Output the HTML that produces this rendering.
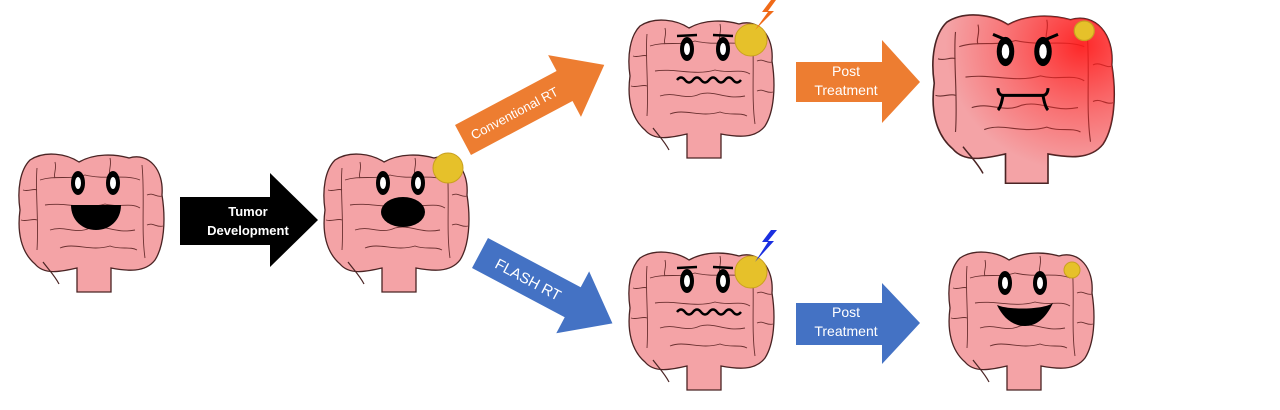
<!DOCTYPE html>
<html><head><meta charset="utf-8"><style>
html,body{margin:0;padding:0;background:#fff;}
svg{display:block;font-family:"Liberation Sans",sans-serif;}
</style></head><body>
<svg width="1280" height="410" viewBox="0 0 1280 410" xmlns="http://www.w3.org/2000/svg">
<defs>
<g id="gut">
  <path d="M62,142 L62,118 C48,121 30,126 20,114 C6,102 2,82 5,60 C2,40 5,20 15,10 C30,0 52,4 64,12 C80,3 100,4 114,8 C134,2 149,20 147,45 C151,70 149,96 140,110 C130,123 112,121 96,118 L96,142 Z" fill="#f4a3a6" stroke="#4a2424" stroke-width="1.3"/>
  <path d="M28,112 C34,120 40,126 44,134" fill="none" stroke="#4a2424" stroke-width="1.2"/>
  <g fill="none" stroke="#6a3030" stroke-width="0.9">
    <path d="M22,18 C20,40 24,70 22,100"/><path d="M127,15 C130,45 126,80 130,108"/>
    <path d="M25,30 C40,25 55,30 70,25 C90,30 110,24 125,30"/>
    <path d="M30,55 C50,52 70,60 90,54 C105,58 115,52 125,58"/>
    <path d="M35,80 C50,75 60,85 75,78 C90,74 100,84 120,80"/>
    <path d="M45,98 C60,92 75,102 95,96 C105,100 115,96 122,100"/>
    <path d="M8,40 C14,42 18,38 22,40 M6,70 C12,72 18,68 22,70 M132,45 C138,42 142,48 147,46 M132,75 C138,72 142,78 148,76"/>
    <path d="M40,12 C42,20 38,24 40,28 M95,8 C97,16 93,20 95,26"/>
  </g>
</g>
<radialGradient id="red" cx="0.82" cy="0.18" r="0.75">
  <stop offset="0" stop-color="#ff1a1a" stop-opacity="0.9"/>
  <stop offset="0.55" stop-color="#ff2a2a" stop-opacity="0.4"/>
  <stop offset="1" stop-color="#ff2a2a" stop-opacity="0"/>
</radialGradient>
<g id="eyes">
  <ellipse cx="0" cy="0" rx="7" ry="12" fill="#000"/><ellipse cx="0" cy="0" rx="3" ry="6" fill="#fff"/>
</g>
</defs>

<g transform="translate(15,150)"><use href="#gut"/>
  <use href="#eyes" x="63" y="33"/><use href="#eyes" x="98" y="33"/>
  <path d="M56,55 L106,55 C106,70 95,80 81,80 C67,80 56,70 56,55 Z" fill="#000"/>
</g>
<polygon points="180,197 270,197 270,173 318,220 270,267 270,245 180,245" fill="#000"/>
<text x="248" y="216" font-size="13" font-weight="bold" fill="#fff" text-anchor="middle">Tumor</text>
<text x="248" y="235" font-size="13" font-weight="bold" fill="#fff" text-anchor="middle">Development</text>

<g transform="translate(320,150)"><use href="#gut"/>
  <use href="#eyes" x="63" y="33"/><use href="#eyes" x="98" y="33"/>
  <ellipse cx="83" cy="62" rx="22" ry="15" fill="#000"/>
  <circle cx="128" cy="18" r="15" fill="#e6c12a" stroke="#c9a020"/>
</g>

<g transform="translate(463,140) rotate(-28)">
  <polygon points="0,-17 115,-17 115,-35 160,0 115,35 115,17 0,17" fill="#ed7d31"/>
  <text x="58" y="5" font-size="13" fill="#fff" text-anchor="middle">Conventional RT</text>
</g>
<g transform="translate(480,253) rotate(28)">
  <polygon points="0,-17 105,-17 105,-35 150,0 105,35 105,17 0,17" fill="#4472c4"/>
  <text x="55" y="6" font-size="15" fill="#fff" text-anchor="middle">FLASH RT</text>
</g>

<g transform="translate(625,16)"><use href="#gut"/>
  <path d="M52,20 L72,19 M88,19 L108,20" stroke="#000" stroke-width="2.5"/>
  <use href="#eyes" x="62" y="33"/><use href="#eyes" x="98" y="33"/>
  <path d="M52,64 q4,-5 8,0 q4,5 8,0 q4,-5 8,0 q4,5 8,0 q4,-5 8,0 q4,5 8,0 q4,-5 8,0 q4,5 8,0" fill="none" stroke="#000" stroke-width="2.5"/>
  <circle cx="126" cy="24" r="16" fill="#e6c12a" stroke="#c9a020"/>
</g>
<polygon points="771,0 762,12 768,12 755,30 774,11 768,11 776,0" fill="#f06a18"/>

<polygon points="796,62 882,62 882,40 920,82 882,123 882,102 796,102" fill="#ed7d31"/>
<text x="846" y="76" font-size="14" fill="#fff" text-anchor="middle">Post</text>
<text x="846" y="95" font-size="14" fill="#fff" text-anchor="middle">Treatment</text>

<g transform="translate(928,10) scale(1.25,1.22)"><use href="#gut"/>
  <path d="M62,142 L62,118 C48,121 30,126 20,114 C6,102 2,82 5,60 C2,40 5,20 15,10 C30,0 52,4 64,12 C80,3 100,4 114,8 C134,2 149,20 147,45 C151,70 149,96 140,110 C130,123 112,121 96,118 L96,142 Z" fill="url(#red)"/>
  <path d="M52,20 L66,26 M104,20 L90,26" stroke="#000" stroke-width="2.4"/>
  <use href="#eyes" x="62" y="34"/><use href="#eyes" x="92" y="34"/>
  <path d="M56,64 C56,68 58,70 60,70 L92,70 C94,70 96,68 96,64 M60,70 C59,76 58,80 56,82 M92,70 C93,76 94,80 96,82" fill="none" stroke="#000" stroke-width="2.4"/>
  <circle cx="125" cy="17" r="8" fill="#e6c12a" stroke="#c9a020"/>
</g>

<g transform="translate(625,248)"><use href="#gut"/>
  <path d="M52,20 L72,19 M88,19 L108,20" stroke="#000" stroke-width="2.5"/>
  <use href="#eyes" x="62" y="33"/><use href="#eyes" x="98" y="33"/>
  <path d="M52,64 q4,-5 8,0 q4,5 8,0 q4,-5 8,0 q4,5 8,0 q4,-5 8,0 q4,5 8,0 q4,-5 8,0 q4,5 8,0" fill="none" stroke="#000" stroke-width="2.5"/>
  <circle cx="126" cy="24" r="16" fill="#e6c12a" stroke="#c9a020"/>
</g>
<polygon points="771,230 762,242 768,242 755,262 774,241 768,241 777,230" fill="#1a2fe0"/>

<polygon points="796,303 882,303 882,283 920,323 882,364 882,345 796,345" fill="#4472c4"/>
<text x="846" y="317" font-size="14" fill="#fff" text-anchor="middle">Post</text>
<text x="846" y="336" font-size="14" fill="#fff" text-anchor="middle">Treatment</text>

<g transform="translate(945,248)"><use href="#gut"/>
  <use href="#eyes" x="60" y="35"/><use href="#eyes" x="95" y="35"/>
  <path d="M52,57 C62,62 98,62 108,55 C100,72 90,78 80,78 C68,78 58,70 52,57 Z" fill="#000"/>
  <circle cx="127" cy="22" r="8" fill="#e6c12a" stroke="#c9a020"/>
</g>
</svg>
</body></html>
